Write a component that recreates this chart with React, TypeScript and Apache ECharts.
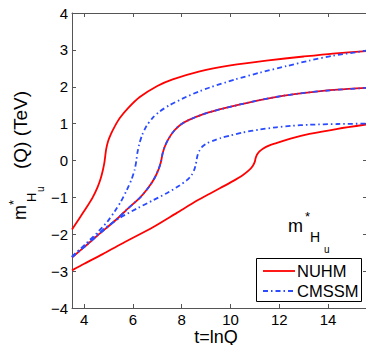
import React, { useEffect, useRef } from 'react';
import * as echarts from 'echarts';

const xTicks = [4, 6, 8, 10, 12, 14];
const legendNames = ['NUHM', 'CMSSM'];

// NUHM curves [t, m*_Hu (TeV)]
const nuhmHigh = [
  [3.5, -1.87], [3.8, -1.57], [4.1, -1.27], [4.35, -1.0], [4.55, -0.72], [4.68, -0.48], [4.77, -0.25],
  [4.83, -0.05], [4.86, 0.1], [4.9, 0.3], [4.98, 0.52], [5.1, 0.72], [5.25, 0.92], [5.46, 1.15],
  [5.8, 1.42], [6.28, 1.72], [7.0, 2.02], [7.63, 2.2], [8.74, 2.42], [10.0, 2.58], [11.47, 2.71],
  [13.0, 2.82], [14.2, 2.9], [15.6, 2.97],
];
const nuhmMid = [
  [3.5, -2.63], [4.0, -2.35], [4.5, -2.06], [5.32, -1.6], [5.8, -1.3], [6.3, -1.0], [6.65, -0.72],
  [6.9, -0.46], [7.05, -0.24], [7.13, -0.08], [7.16, 0], [7.22, 0.2], [7.32, 0.4], [7.47, 0.6],
  [7.68, 0.8], [7.95, 0.97], [8.3, 1.1], [8.86, 1.25], [9.3, 1.34], [10.4, 1.52], [11.2, 1.64],
  [12.2, 1.76], [13.24, 1.85], [14.4, 1.92], [15.6, 1.97],
];
const nuhmLow = [
  [3.5, -2.98], [4.0, -2.8], [4.76, -2.54], [5.5, -2.27], [6.82, -1.81], [7.8, -1.42], [8.65, -1.08],
  [9.15, -0.9], [9.6, -0.74], [10.1, -0.56], [10.5, -0.4], [10.75, -0.27], [10.92, -0.14],
  [11.0, -0.03], [11.03, 0.06], [11.08, 0.15], [11.18, 0.24], [11.33, 0.32], [11.6, 0.41],
  [11.88, 0.47], [12.5, 0.6], [13.24, 0.72], [14.4, 0.86], [15.6, 0.98],
];

// CMSSM curves [t, m*_Hu (TeV)]
const cmssmHigh = [
  [3.5, -2.62], [4.0, -2.3], [4.5, -1.98], [4.95, -1.66], [5.25, -1.38], [5.5, -1.12], [5.75, -0.8],
  [5.95, -0.5], [6.07, -0.25], [6.14, 0], [6.18, 0.2], [6.25, 0.42], [6.37, 0.68], [6.55, 0.93],
  [6.8, 1.15], [7.1, 1.33], [7.5, 1.5], [8.2, 1.73], [8.74, 1.88], [9.15, 1.98], [10.2, 2.2],
  [11.2, 2.38], [12.3, 2.56], [13.24, 2.71], [14.2, 2.84], [15.6, 2.98],
];
const cmssmMid = [
  [3.5, -2.62], [4.0, -2.35], [4.5, -2.06], [5.32, -1.6], [5.8, -1.3], [6.3, -1.0], [6.65, -0.72],
  [6.9, -0.46], [7.05, -0.24], [7.13, -0.08], [7.16, 0], [7.22, 0.2], [7.32, 0.4], [7.47, 0.6],
  [7.68, 0.8], [7.95, 0.97], [8.3, 1.1], [8.86, 1.25], [9.3, 1.34], [10.4, 1.52], [11.2, 1.64],
  [12.2, 1.76], [13.24, 1.85], [14.4, 1.92], [15.6, 1.97],
];
const cmssmLow = [
  [3.5, -2.6], [4.2, -2.2], [4.8, -1.86], [5.45, -1.56], [6.2, -1.29], [6.82, -1.08], [7.4, -0.88],
  [7.91, -0.68], [8.2, -0.54], [8.4, -0.4], [8.52, -0.24], [8.58, -0.1], [8.61, 0.02], [8.65, 0.14],
  [8.72, 0.26], [8.85, 0.38], [9.05, 0.47], [9.3, 0.54], [9.6, 0.61], [10.0, 0.68], [10.5, 0.76],
  [11.2, 0.84], [11.88, 0.9], [12.5, 0.94], [13.24, 0.97], [14.4, 0.99], [15.6, 1.0],
];

const RED = '#ff0000';
const BLUE = '#2a4bff';
const FONT = '"Liberation Sans", Arial, Helvetica, sans-serif';
const DASHDOT = [5, 3, 1.5, 3];
const AXIS_COLOR = '#555555';

const fmt = (v: number) => (v < 0 ? '\u2212' + Math.abs(v) : String(v));

export default function App() {
  const ref = useRef<HTMLDivElement>(null);

  useEffect(() => {
    if (!ref.current) return;
    const chart = echarts.init(ref.current, undefined, { renderer: 'svg' });

    const lineSeries = (name: string, data: number[][], color: string, dashed: boolean) => ({
      type: 'line',
      name,
      data,
      xAxisIndex: 0,
      yAxisIndex: 0,
      showSymbol: false,
      symbol: 'none',
      smooth: 0.25,
      lineStyle: { color, width: 1.8, type: dashed ? DASHDOT : 'solid' },
      emphasis: { disabled: true },
    });

    const baseX = {
      type: 'value',
      min: 3.5,
      max: 15.6,
      splitLine: { show: false },
      axisLine: { onZero: false, lineStyle: { color: AXIS_COLOR, width: 1 } },
      axisTick: { inside: true, length: 4, customValues: xTicks, lineStyle: { color: AXIS_COLOR } },
    };
    const baseY = {
      type: 'value',
      min: -4,
      max: 4,
      interval: 1,
      splitLine: { show: false },
      axisLine: { onZero: false, lineStyle: { color: AXIS_COLOR, width: 1 } },
      axisTick: { inside: true, length: 4, lineStyle: { color: AXIS_COLOR } },
    };

    const txt = (text: string, x: number, y: number, size: number, opts: any = {}) => ({
      type: 'text',
      x,
      y,
      rotation: opts.rotation || 0,
      style: {
        text,
        font: `${size}px ${FONT}`,
        fill: '#000',
        align: opts.align || 'left',
        verticalAlign: opts.verticalAlign || 'middle',
      },
      silent: true,
    });

    const R = Math.PI / 2;

    chart.setOption({
      animation: false,
      backgroundColor: '#ffffff',
      grid: { left: 72, top: 13, width: 295, height: 295, containLabel: false },
      xAxis: [
        {
          ...baseX,
          position: 'bottom',
          axisLabel: {
            customValues: xTicks,
            fontSize: 15,
            fontFamily: FONT,
            color: '#000',
            margin: 4,
            formatter: fmt,
          },
        },
        { ...baseX, position: 'top', axisLabel: { show: false } },
      ],
      yAxis: [
        {
          ...baseY,
          position: 'left',
          axisLabel: { fontSize: 15, fontFamily: FONT, color: '#000', margin: 4, formatter: fmt },
        },
        { ...baseY, position: 'right', axisLabel: { show: false } },
      ],
      series: [
        lineSeries(legendNames[0], nuhmHigh, RED, false),
        lineSeries(legendNames[0], nuhmMid, RED, false),
        lineSeries(legendNames[0], nuhmLow, RED, false),
        lineSeries(legendNames[1], cmssmHigh, BLUE, true),
        lineSeries(legendNames[1], cmssmMid, BLUE, true),
        lineSeries(legendNames[1], cmssmLow, BLUE, true),
      ],
      graphic: [
        // x-axis title
        txt('t=lnQ', 216, 337, 18, { align: 'center' }),
        // y-axis title (rotated)
        txt('m', 20, 220, 18, { rotation: R }),
        txt('*', 13, 205, 13, { rotation: R }),
        txt('H', 31, 202, 13, { rotation: R }),
        txt('u', 40, 192, 10, { rotation: R }),
        txt('(Q) (TeV)', 20, 169, 19, { rotation: R }),
        // in-plot annotation
        txt('m', 288, 226, 18),
        txt('*', 305, 216, 13),
        txt('H', 310, 237, 14),
        txt('u', 324, 249, 10),
        // legend
        {
          type: 'rect',
          shape: { x: 256.5, y: 258.5, width: 105, height: 43 },
          style: { fill: '#fff', stroke: '#000', lineWidth: 1 },
          silent: true,
          z: 10,
        },
        {
          type: 'line',
          shape: { x1: 263, y1: 271, x2: 295, y2: 271 },
          style: { stroke: RED, lineWidth: 1.8 },
          silent: true,
          z: 11,
        },
        {
          type: 'line',
          shape: { x1: 263, y1: 291, x2: 295, y2: 291 },
          style: { stroke: BLUE, lineWidth: 1.8, lineDash: DASHDOT },
          silent: true,
          z: 11,
        },
        { ...txt(legendNames[0], 297, 271, 16.5), z: 11 },
        { ...txt(legendNames[1], 297, 291, 16.5), z: 11 },
      ],
    });

    return () => chart.dispose();
  }, []);

  return <div ref={ref} style={{ width: 374, height: 353, margin: -8 }} />;
}
